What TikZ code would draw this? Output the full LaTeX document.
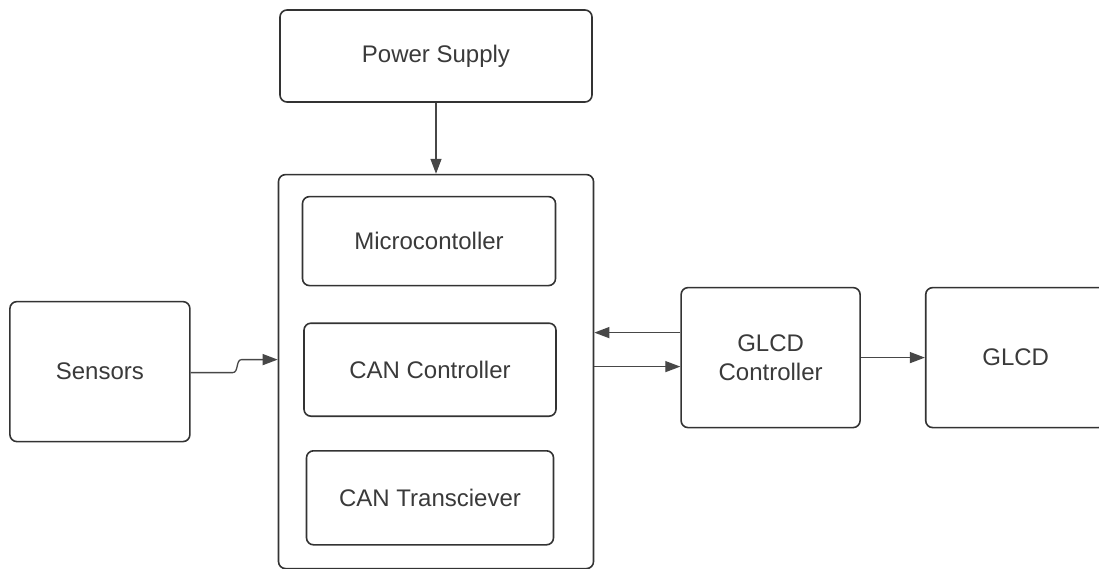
\documentclass[tikz,border=0pt]{standalone}
\usepackage{fontspec}
\setsansfont{Liberation Sans}
\usepackage{xcolor}
\usepackage{tikz}
\usetikzlibrary{
  arrows.meta,
  positioning,
  calc
}
\definecolor{boxline}{HTML}{333333}
\definecolor{boxtext}{HTML}{3A3A3A}
\tikzstyle{blockbox} = [
  rectangle, rounded corners=7pt, draw=boxline, line width=1.6pt,
  fill=white, align=center, text=boxtext,
  font=\fontsize{24}{29}\selectfont\sffamily
]
\tikzstyle{arrowstyle} = [-{Triangle[length=15pt,width=11pt]}, draw=boxline!90, line width=1.3pt]

\begin{document}
\begin{tikzpicture}
\useasboundingbox (0,0) rectangle (1099pt,-569pt);
\clip (0,0) rectangle (1099pt,-569pt);

% --- Nodes ---
\node[blockbox, minimum width=312pt, minimum height=92pt] (power) at (436pt,-56pt) {Power Supply};
\node[blockbox, minimum width=315pt, minimum height=394pt, below=71pt of power] (main) {};
\node[blockbox, minimum width=253pt, minimum height=89pt, below=22pt of main.north, xshift=-7pt] (micro) {Microcontoller};
\node[blockbox, minimum width=252pt, minimum height=93pt, below=36pt of micro, xshift=1pt] (canctrl) {CAN Controller};
\node[blockbox, minimum width=247pt, minimum height=94pt, below=33pt of canctrl] (cantx) {CAN Transciever};
\node[blockbox, minimum width=180pt, minimum height=140pt, left=87pt of main] (sensors) {Sensors};
\node[blockbox, minimum width=179pt, minimum height=140pt, right=86pt of main, yshift=14pt] (glcdctrl) {GLCD\\Controller};
\node[blockbox, minimum width=180pt, minimum height=140pt, right=64pt of glcdctrl] (glcd) {GLCD};

% --- Arrows ---
\draw[arrowstyle] (power) -- (main);
\draw[arrowstyle] ([yshift=-1pt]sensors.east) -- ++(42pt,0) to[out=0,in=180] ++(9pt,13pt) coordinate (hop) -- (hop -| main.west);
\draw[arrowstyle] ([yshift=25pt]glcdctrl.west) coordinate (back) -- (back -| main.east);
\coordinate (fwd) at ([yshift=-9pt]glcdctrl.west);
\draw[arrowstyle] (fwd -| main.east) -- (fwd);
\draw[arrowstyle] (glcdctrl) -- (glcd);

\end{tikzpicture}
\end{document}
